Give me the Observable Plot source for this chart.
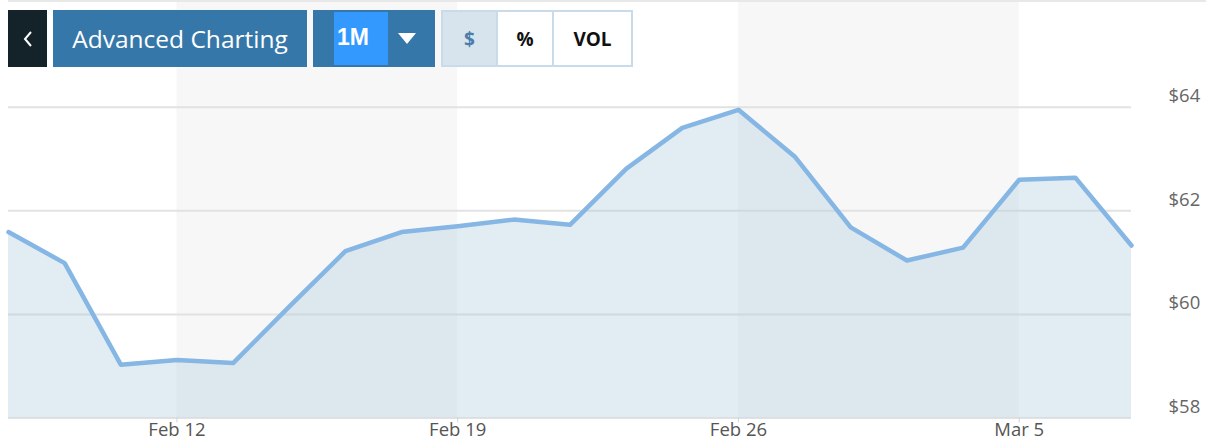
<!DOCTYPE html>
<html><head><meta charset="utf-8">
<script src="https://cdn.jsdelivr.net/npm/d3@7"></script>
<script src="https://cdn.jsdelivr.net/npm/@observablehq/plot@0.6"></script>
<style>
body{margin:0;background:#fff;font-family:"Open Sans",sans-serif;}
#wrap{position:relative;width:1206px;height:443px;overflow:hidden;}
#chart{position:absolute;left:0;top:0;}
#topline{position:absolute;left:8px;top:0;width:1198px;height:2px;background:#e8e8e8;}
.b{position:absolute;top:10px;height:57px;box-sizing:border-box;display:flex;align-items:center;justify-content:center;}
#back{left:8px;width:39px;background:#14232a;}
#adv{left:53px;width:254px;background:#3677a9;color:#fff;font-size:24.5px;}
#range{left:313px;width:122px;background:#3677a9;}
#one{position:absolute;left:21px;top:2px;width:54px;height:53px;background:#3399ff;color:#fff;font:bold 23px "Liberation Sans",Arial,sans-serif;display:flex;align-items:center;justify-content:flex-start;padding-left:3px;box-sizing:border-box;padding-bottom:2px;}
#tri{position:absolute;left:85px;top:23px;width:0;height:0;border-left:9px solid transparent;border-right:9px solid transparent;border-top:11px solid #fff;}
#grp{left:441px;width:192px;border:2px solid #c9dbe9;background:#fff;justify-content:flex-start;}
.c{height:100%;display:flex;align-items:center;justify-content:center;font:bold 19px "Open Sans",sans-serif;color:#111;box-sizing:border-box;}
</style></head>
<body>
<div id="wrap">
  <div id="chart"></div>
  <div id="topline"></div>
  <div class="b" id="back"><svg width="12" height="18"><polyline points="9,2 3,9 9,16" fill="none" stroke="#fff" stroke-width="2"/></svg></div>
  <div class="b" id="adv">Advanced Charting</div>
  <div class="b" id="range"><div id="one">1M</div><div id="tri"></div></div>
  <div class="b" id="grp">
    <div class="c" style="width:55px;background:#d7e4ee;color:#4b7dab;border-right:2px solid #c9dbe9;">$</div>
    <div class="c" style="width:56px;border-right:2px solid #c9dbe9;">%</div>
    <div class="c" style="width:77px;">VOL</div>
  </div>
</div>
<script>
const dates = ["Feb 7","Feb 8","Feb 9","Feb 12","Feb 13","Feb 14","Feb 15","Feb 16","Feb 19","Feb 20","Feb 21","Feb 22","Feb 23","Feb 26","Feb 27","Feb 28","Mar 1","Mar 2","Mar 5","Mar 6","Mar 7"];
const prices = [61.59,60.99,59.03,59.12,59.06,60.15,61.22,61.59,61.70,61.83,61.73,62.81,63.60,63.95,63.05,61.68,61.04,61.29,62.60,62.64,61.33];
const xTickLabels = ["Feb 12","Feb 19","Feb 26","Mar 5"];
const yTicks = [58,60,62,64];
const bandStarts = ["Feb 12","Feb 26"];
const bandEnds = ["Feb 19","Mar 5"];

const data = dates.map((d,i)=>({i, date:d, price:prices[i]}));
const idx = d => dates.indexOf(d);
const bands = bandStarts.map((s,k)=>({x1:idx(s), x2:idx(bandEnds[k])}));
const yMin = 58, yMax = 66.06;

const chart = Plot.plot({
  width:1206, height:443,
  marginLeft:8, marginRight:75, marginTop:0, marginBottom:25.5,
  x:{domain:[0,dates.length-1], label:null},
  y:{domain:[yMin,yMax], label:null},
  style:{fontFamily:"Open Sans", background:"transparent", overflow:"visible"},
  marks:[
    Plot.rect(bands,{x1:"x1", x2:"x2", y1:yMin, y2:yMax, fill:"#f7f7f7"}),
    Plot.ruleY(yTicks,{stroke:"#e2e2e2", strokeWidth:2}),
    Plot.areaY(data,{x:"i", y1:yMin, y2:"price", fill:"#a9c8de", fillOpacity:0.35}),
    Plot.lineY(data,{x:"i", y:"price", stroke:"#85b6e4", strokeWidth:4.5, strokeLinejoin:"round"}),
    Plot.axisX({ticks:xTickLabels.map(idx), tickFormat:i=>dates[i], tickSize:5, tickPadding:0, stroke:"#c8d6e2", fill:"#555", fontSize:18.5, label:null}),
    Plot.axisY({anchor:"right", ticks:yTicks, tickFormat:d=>"$"+d, tickSize:0, tickPadding:0, dx:37, dy:-11, textAnchor:"start", fill:"#666", fontSize:18.5, label:null})
  ]
});
document.getElementById("chart").appendChild(chart);
</script>
</body></html>
